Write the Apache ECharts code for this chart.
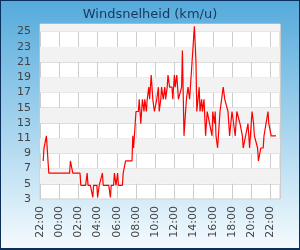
<!DOCTYPE html>
<html>
<head>
<meta charset="UTF-8">
<title></title>
<script src="https://cdn.jsdelivr.net/npm/echarts@6/dist/echarts.min.js"></script>
<style>
body,html{ padding:0px; margin:0px; background:#fff;}
#wrap{ position:relative; width:300px; height:250px;}
#chart_box{ width:300px; height:250px;}
#rand{ position:absolute; left:0; top:0; width:300px; height:250px; box-sizing:border-box; border:1px solid #0b2f5a; border-bottom-width:2px; pointer-events:none;}
</style>
</head>
<body>
<div id="wrap">
    <div id="chart_box"></div>
    <div id="rand"></div>
</div>
<script type="text/javascript">
// meetmomenten (start 22:00, loopt door tot de volgende avond)
var tijden = ["22:20","22:25","22:35","22:40","22:55","01:05","01:10","01:20","01:25","02:10",
    "02:15","02:45","02:55","03:00","03:15","03:30","03:35","03:55","04:00","04:10",
    "04:20","04:30","04:35","05:10","05:20","05:25","05:40","05:45","05:55","06:05",
    "06:10","06:35","06:40","06:50","06:55","07:35","07:40","07:45","07:55","08:00",
    "08:15","08:20","08:30","08:40","08:50","08:55","09:05","09:10","09:20","09:25",
    "09:35","09:45","09:55","10:05","10:10","10:20","10:25","10:35","10:40","10:50",
    "11:00","11:05","11:15","11:20","11:30","11:45","11:50","12:00","12:05","12:15",
    "12:25","12:45","12:50","13:00","13:10","13:15","13:25","13:35","13:45","13:55",
    "14:05","14:15","14:20","14:35","14:40","14:50","14:55","15:05","15:15","15:25",
    "15:35","15:55","16:00","16:10","16:15","16:20","16:30","16:35","16:45","16:55",
    "17:05","17:15","17:25","17:35","17:45","18:00","18:10","18:20","18:30","18:40",
    "18:50","18:55","19:05","19:10","19:25","19:30","19:40","19:50","20:00","20:05",
    "20:15","20:20","20:30","20:40","20:45","21:00","21:15","21:20","21:30","21:45",
    "21:50","22:05","22:15","22:25","22:30","22:35"];
var snelheid = [8.0,9.7,9.7,11.3,6.4,6.4,8.0,8.0,6.4,6.4,
    4.8,4.8,6.4,4.8,4.8,3.2,4.8,4.8,3.2,4.8,
    4.8,6.4,4.8,4.8,3.2,4.8,4.8,6.4,4.8,6.4,
    4.8,4.8,6.4,6.4,8.0,8.0,11.3,9.7,12.9,14.5,
    14.5,16.1,12.9,16.1,14.5,16.1,14.5,16.1,17.7,16.1,
    19.3,16.1,14.5,14.5,16.1,17.7,14.5,16.1,17.7,16.1,
    17.7,16.1,17.7,19.3,17.7,17.7,16.1,19.3,17.7,19.3,
    16.1,17.7,22.5,11.3,11.3,16.1,17.7,16.1,19.3,19.3,
    25.7,20.9,14.5,17.7,14.5,16.1,14.5,16.1,11.3,14.5,
    14.5,11.3,14.5,12.9,14.5,11.3,9.7,11.3,14.5,16.1,
    17.7,16.1,16.1,14.5,11.3,14.5,14.5,11.3,14.5,14.5,
    12.9,12.9,11.3,9.7,11.3,11.3,12.9,9.7,9.7,14.5,
    12.9,11.3,11.3,9.7,8.0,9.7,9.7,11.3,11.3,14.5,
    12.9,11.3,11.3,11.3,11.3,11.3];
var yMin = 3, yMax = 26, yStap = 2;
var xStart = 22 * 60, xBereik = 1500, xStap = 120;

// tijden omrekenen naar minuten sinds 22:00
var punten = [];
var vorige = -1, dag = 0;
for (var i = 0; i < tijden.length; i++) {
    var d = tijden[i].split(":");
    var m = parseInt(d[0], 10) * 60 + parseInt(d[1], 10) - xStart;
    if (m < 0) m += 1440;
    m += dag;
    if (m < vorige) { dag += 1440; m += 1440; }
    vorige = m;
    punten.push([m, snelheid[i]]);
}

// grijze banden tussen de lijnen
var banden = [];
for (var b = yMin + yStap, n = 1; b < yMax; b += yStap, n++) {
    if (n % 2 == 1) banden.push([{yAxis: b}, {yAxis: Math.min(b + yStap, yMax)}]);
}

function tijdLabel(v) {
    var t = (xStart + v) % 1440;
    var h = Math.floor(t / 60), m = t % 60;
    return (h < 10 ? "0" : "") + h + ":" + (m < 10 ? "0" : "") + m;
}

var myChart = echarts.init(document.getElementById('chart_box'));
var option = {
    animation: false,
    backgroundColor: new echarts.graphic.LinearGradient(0, 0, 0, 1, [
        {offset: 0, color: '#54aadb'},
        {offset: 0.45, color: '#9ccfec'},
        {offset: 1, color: '#f6fbfe'}
    ]),
    title: {
        text: 'Windsnelheid (km/u)',
        left: 'center',
        top: 3,
        textStyle: {fontFamily: 'DejaVu Sans', fontSize: 13, fontWeight: 'normal', color: '#17385c'}
    },
    grid: {left: 40, right: 20, top: 24, bottom: 51, show: true, backgroundColor: '#ffffff', borderColor: '#cccccc', borderWidth: 1},
    xAxis: {
        type: 'value',
        min: 0,
        max: xBereik,
        interval: xStap,
        axisLine: {show: false},
        axisTick: {show: false},
        axisLabel: {rotate: 90, formatter: tijdLabel, showMaxLabel: false, fontFamily: 'DejaVu Sans', fontSize: 11, color: '#444', margin: 7},
        splitLine: {show: true, lineStyle: {color: '#cccccc', width: 1}}
    },
    yAxis: {
        type: 'value',
        min: yMin,
        max: yMax,
        interval: yStap,
        axisLine: {show: false},
        axisTick: {show: false},
        axisLabel: {showMaxLabel: false, fontFamily: 'DejaVu Sans', fontSize: 11, color: '#444', margin: 9},
        splitLine: {show: true, lineStyle: {color: '#dddddd', width: 1}}
    },
    series: [{
        type: 'line',
        data: punten,
        symbol: 'none',
        lineStyle: {color: '#ff0000', width: 1.2},
        markArea: {silent: true, itemStyle: {color: '#f2f2f2'}, data: banden},
        z: 3
    }]
};
myChart.setOption(option);
</script>
</body>
</html>
